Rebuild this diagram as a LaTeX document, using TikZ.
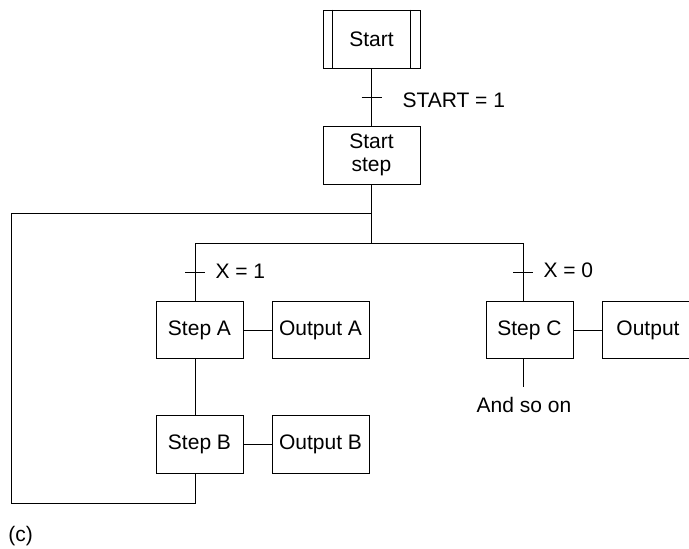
\documentclass[tikz,border=0pt]{standalone}
\usepackage{fontspec}
\setmainfont{Liberation Sans}
\begin{document}
\begin{tikzpicture}[x=1pt,y=-1pt,line width=1pt,
  box/.style={draw, inner sep=0pt, align=center, font=\fontsize{21}{23}\selectfont},
  lbl/.style={inner sep=0pt, font=\fontsize{21}{23}\selectfont}]
\useasboundingbox (0,0) rectangle (689,549);
% nodes
\node[box, minimum width=97pt, minimum height=58pt] (start) at (371.5,39) {Start};
\draw ([xshift=10pt]start.north west) -- ([xshift=10pt]start.south west);
\draw ([xshift=-10pt]start.north east) -- ([xshift=-10pt]start.south east);
\node[box, minimum width=97pt, minimum height=58pt] (sstep) at (371.5,155) {Start\\step};
\node[box, minimum width=87pt, minimum height=57pt] (stepA) at (199.5,330) {Step A};
\node[box, minimum width=97pt, minimum height=57pt] (outA) at (320.5,330) {Output A};
\node[box, minimum width=87pt, minimum height=58pt] (stepB) at (199.5,444) {Step B};
\node[box, minimum width=97pt, minimum height=58pt] (outB) at (320.5,444) {Output B};
\node[box, minimum width=87pt, minimum height=57pt] (stepC) at (529.5,330) {Step C};
\node[box, minimum width=92pt, minimum height=57pt] (outC) at (648,330) {Output};
% coordinates
\coordinate (jn) at (371.5,243);
\coordinate (loopt) at (371.5,213);
\coordinate (lb) at (195,243);
\coordinate (rb) at (523,243);
\coordinate (lc1) at (11,213);
\coordinate (lc2) at (11,503);
\coordinate (lc3) at (195,503);
\coordinate (t0) at (371.5,97);
\coordinate (t1) at (195,272);
\coordinate (t2) at (523,272);
\coordinate (cend) at (523,387);
% connectors
\draw (start.south) -- (sstep.north);
\draw (sstep.south) -- (jn);
\draw (lb) -- (rb);
\draw (lb) -- (lb |- stepA.north);
\draw (rb) -- (rb |- stepC.north);
\draw (stepA.east) -- (outA.west);
\draw (stepB.east) -- (outB.west);
\draw (stepC.east) -- (outC.west);
\draw (lb |- stepA.south) -- (lb |- stepB.north);
\draw (lb |- stepB.south) -- (lc3) -- (lc2) -- (lc1) -- (loopt);
\draw (rb |- stepC.south) -- (cend);
% transition ticks
\draw ([xshift=-10pt]t0) -- ([xshift=10pt]t0);
\draw ([xshift=-10pt]t1) -- ([xshift=10pt]t1);
\draw ([xshift=-10pt]t2) -- ([xshift=10pt]t2);
% labels
\node[lbl, anchor=base west] (l0) at (402,107) {START = 1};
\node[lbl, anchor=base west] (l1) at (215,278) {X = 1};
\node[lbl, anchor=base west] (l2) at (543,277.5) {X = 0};
\node[lbl, anchor=base] (so) at (524,412) {And so on};
\node[lbl, anchor=base west] (cap) at (8,541) {(c)};
\end{tikzpicture}
\end{document}
